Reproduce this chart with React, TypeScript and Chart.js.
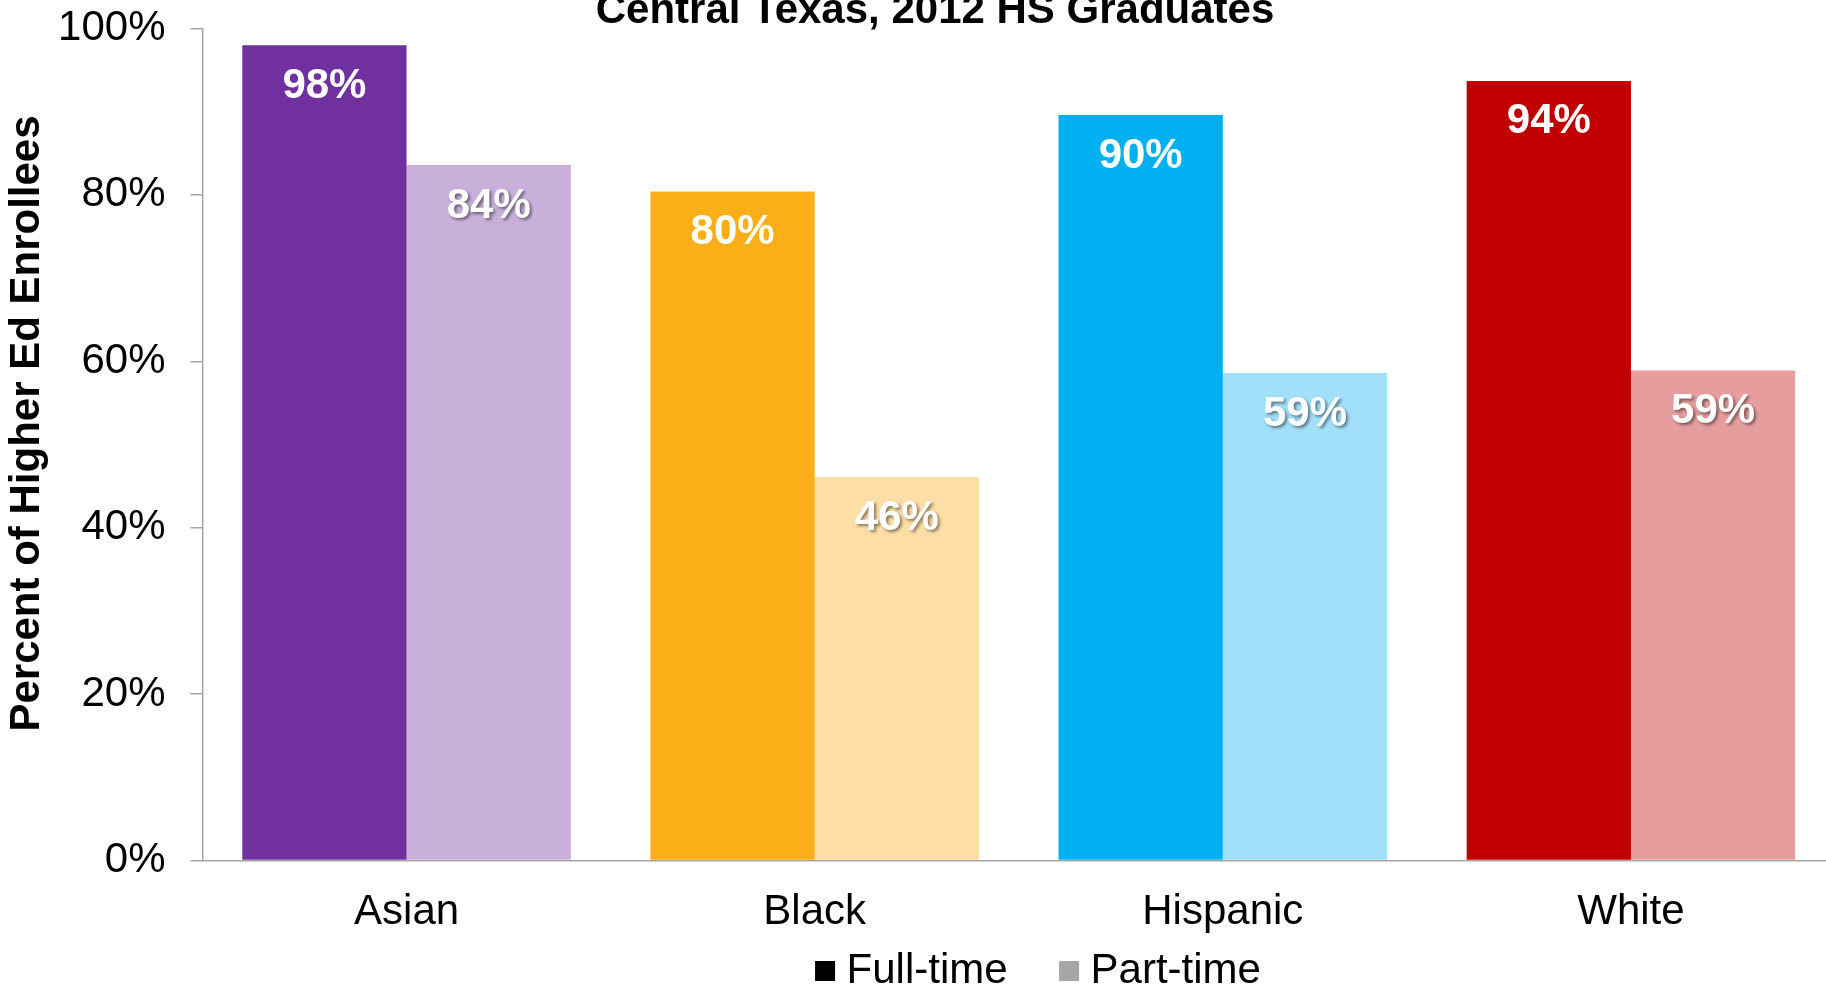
import React, { useEffect, useRef } from 'react';
import { Chart, registerables } from 'chart.js';

Chart.register(...registerables);

const categories = ['Asian', 'Black', 'Hispanic', 'White'];
const fullTime = [98.0, 80.4, 89.6, 93.7];
const partTime = [83.6, 46.1, 58.6, 58.9];
const fullColors = ['#7030A0', '#FBAE17', '#00B0F0', '#C00000'];
const partColors = ['#C8B0DA', '#FCDEA6', '#A1E0F8', '#E69D9E'];
const yTicks = [0, 20, 40, 60, 80, 100];
const seriesNames = ['Full-time', 'Part-time'];
const legendColors = ['#000000', '#A6A6A6'];
const chartTitle = 'Central Texas, 2012 HS Graduates';
const yTitle = 'Percent of Higher Ed Enrollees';

const FONT = '"Liberation Sans", Arial, Helvetica, sans-serif';
const CANVAS_W = 1835;
const CANVAS_H = 1032;
const OFFSET_TOP = 30;

export default function App() {
  const ref = useRef<HTMLCanvasElement>(null);

  useEffect(() => {
    document.body.style.margin = '0';
    const canvas = ref.current;
    if (!canvas) return;

    const valueLabels = {
      id: 'valueLabels',
      afterDatasetsDraw(chart: any) {
        const ctx = chart.ctx;
        chart.data.datasets.forEach((ds: any, di: number) => {
          const meta = chart.getDatasetMeta(di);
          meta.data.forEach((bar: any, i: number) => {
            const v = ds.data[i] as number;
            ctx.save();
            ctx.font = `bold 42px ${FONT}`;
            ctx.fillStyle = '#FFFFFF';
            ctx.textAlign = 'center';
            ctx.textBaseline = 'middle';
            if (di === 1) {
              ctx.shadowColor = 'rgba(0,0,0,0.45)';
              ctx.shadowOffsetX = 2;
              ctx.shadowOffsetY = 2;
              ctx.shadowBlur = 3;
            }
            ctx.fillText(`${Math.round(v)}%`, bar.x, bar.y + 41);
            ctx.restore();
          });
        });
      },
    };

    const shiftBoxes = {
      id: 'shiftBoxes',
      afterLayout(chart: any) {
        if (chart.legend) {
          chart.legend.left += 24;
          chart.legend.right += 24;
        }
        if (chart.titleBlock) {
          chart.titleBlock.left += 17.5;
          chart.titleBlock.right += 17.5;
        }
        const ys = chart.scales.y;
        if (ys && !ys.__titleShifted) {
          const orig = ys.drawTitle;
          ys.drawTitle = function (...args: any[]) {
            const ctx = this.ctx;
            ctx.save();
            ctx.translate(0, -21);
            orig.apply(this, args);
            ctx.restore();
          };
          ys.__titleShifted = true;
        }
      },
    };

    Chart.defaults.font.family = FONT;

    const chart = new Chart(canvas, {
      type: 'bar',
      data: {
        labels: categories,
        datasets: [
          {
            label: seriesNames[0],
            data: fullTime,
            backgroundColor: fullColors,
            borderWidth: 0,
            categoryPercentage: 0.805,
            barPercentage: 1,
          },
          {
            label: seriesNames[1],
            data: partTime,
            backgroundColor: partColors,
            borderWidth: 0,
            categoryPercentage: 0.805,
            barPercentage: 1,
          },
        ],
      },
      options: {
        responsive: false,
        animation: false,
        layout: { padding: 0 },
        plugins: {
          title: {
            display: true,
            text: chartTitle,
            color: '#000000',
            font: { family: FONT, size: 42, weight: 'bold', lineHeight: 0.8 },
            padding: { top: 24.7, bottom: 0.2 },
          },
          legend: {
            position: 'bottom',
            fullSize: false,
            labels: {
              usePointStyle: true,
              pointStyle: 'rect',
              boxWidth: 1,
              boxHeight: 20,
              padding: 61,
              color: '#000000',
              font: { family: FONT, size: 42, lineHeight: 1.2 },
              generateLabels: () =>
                seriesNames.map((n, i) => ({
                  text: n,
                  fillStyle: legendColors[i],
                  strokeStyle: legendColors[i],
                  lineWidth: 0,
                  pointStyle: 'rect',
                  hidden: false,
                  datasetIndex: i,
                  fontColor: '#000000',
                })),
            },
          },
          tooltip: { enabled: false },
        },
        scales: {
          x: {
            grid: { display: false, drawTicks: false },
            border: { display: true, color: '#A6A6A6', width: 1.5 },
            ticks: {
              mirror: true,
              color: '#000000',
              font: { family: FONT, size: 42, lineHeight: 1.2 },
              padding: -77,
            },
            afterFit: (s: any) => {
              s.height = 28.5;
            },
          },
          y: {
            min: 0,
            max: 100,
            afterBuildTicks: (s: any) => {
              s.ticks = yTicks.map((v) => ({ value: v }));
            },
            ticks: {
              callback: (v: any) => `${v}%`,
              padding: 25,
              color: '#000000',
              font: { family: FONT, size: 42, lineHeight: 1.2 },
            },
            grid: {
              drawOnChartArea: false,
              drawTicks: true,
              tickLength: 12,
              color: '#A6A6A6',
              lineWidth: 1.5,
            },
            border: { display: true, color: '#A6A6A6', width: 1.5 },
            title: {
              display: true,
              text: yTitle,
              color: '#000000',
              font: { family: FONT, size: 42, weight: 'bold', lineHeight: 1.2 },
              padding: { top: 2.3, bottom: 0 },
            },
            afterFit: (s: any) => {
              s.width = 202.5;
            },
          },
        },
      },
      plugins: [valueLabels, shiftBoxes],
    } as any);

    return () => chart.destroy();
  }, []);

  return (
    <div style={{ position: 'relative', width: 1826, height: 988, overflow: 'hidden', background: '#FFFFFF' }}>
      <canvas
        ref={ref}
        width={CANVAS_W}
        height={CANVAS_H}
        style={{ position: 'absolute', left: 0, top: -OFFSET_TOP, display: 'block' }}
      />
    </div>
  );
}
